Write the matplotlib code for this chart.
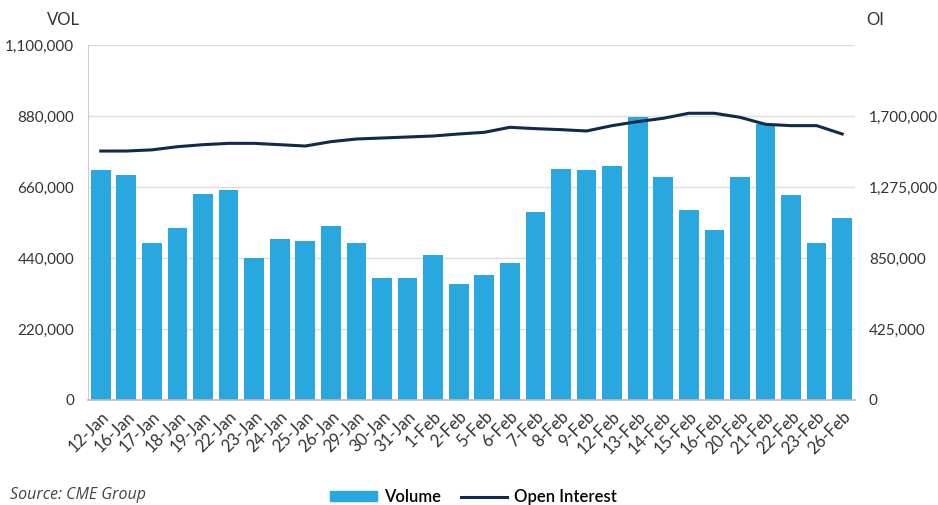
import matplotlib.pyplot as plt
import numpy as np
from matplotlib.ticker import FuncFormatter
from matplotlib.patches import Patch
from matplotlib.lines import Line2D

plt.rcParams['font.family'] = ['Lato', 'DejaVu Sans']

# data
dates = ["12-Jan", "16-Jan", "17-Jan", "18-Jan", "19-Jan", "22-Jan", "23-Jan", "24-Jan",
         "25-Jan", "26-Jan", "29-Jan", "30-Jan", "31-Jan", "1-Feb", "2-Feb", "5-Feb",
         "6-Feb", "7-Feb", "8-Feb", "9-Feb", "12-Feb", "13-Feb", "14-Feb", "15-Feb",
         "16-Feb", "20-Feb", "21-Feb", "22-Feb", "23-Feb", "26-Feb"]

volume = [713000, 697000, 486000, 532000, 639000, 650000, 439000, 500000,
          493000, 539000, 486000, 377000, 377000, 450000, 358000, 387000,
          423000, 581000, 716000, 712000, 725000, 878000, 692000, 589000,
          527000, 692000, 855000, 635000, 486000, 565000]

open_interest = [1490000, 1490000, 1497000, 1516000, 1528000, 1536000, 1536000, 1528000,
                 1520000, 1546000, 1562000, 1568000, 1574000, 1580000, 1592000, 1602000,
                 1632000, 1624000, 1618000, 1610000, 1642000, 1666000, 1686000, 1716000,
                 1716000, 1692000, 1650000, 1642000, 1642000, 1592000]

vol_ticks = [0, 220000, 440000, 660000, 880000, 1100000]
oi_ticks = [0, 425000, 850000, 1275000, 1700000]

bar_color = "#29a8e0"
line_color = "#0f2a4a"
text_color = "#333333"

fig = plt.figure(figsize=(9.38, 5.05), dpi=100)
ax = fig.add_axes([0.0938, 0.208, 0.8177, 0.703])
ax2 = ax.twinx()

x = np.arange(len(dates))
ax.bar(x, volume, width=0.77, color=bar_color, zorder=2)
ax2.plot(x, open_interest, color=line_color, linewidth=2.2, zorder=3)

ax.set_xlim(-0.5, len(dates) - 0.5)
ax.set_ylim(0, 1100000)
ax2.set_ylim(0, 2125000)
ax.set_yticks(vol_ticks)
ax2.set_yticks(oi_ticks)

fmt = FuncFormatter(lambda v, p: f"{int(v):,}")
ax.yaxis.set_major_formatter(fmt)
ax2.yaxis.set_major_formatter(fmt)

ax.grid(axis='y', color='#dddddd', linewidth=1, zorder=0)
ax.set_axisbelow(True)

for a in (ax, ax2):
    a.spines['top'].set_visible(False)
    a.spines['right'].set_visible(False)
ax.spines['left'].set_color('#cccccc')
ax.spines['bottom'].set_color('#bbbbbb')
ax.spines['bottom'].set_linewidth(1.2)
ax2.spines['left'].set_visible(False)
ax2.spines['bottom'].set_visible(False)

ax.set_xticks(x)
ax.set_xticklabels(dates, rotation=45, ha='right', rotation_mode='anchor',
                   fontsize=12, color=text_color)
ax.tick_params(axis='x', length=0, pad=6)
ax.tick_params(axis='y', length=0, pad=10, labelsize=11, labelcolor=text_color)
ax2.tick_params(axis='y', length=0, pad=10, labelsize=11, labelcolor=text_color)

fig.text(0.085, 0.96, "VOL", ha='right', va='center', fontsize=12, color=text_color)
fig.text(0.923, 0.96, "OI", ha='left', va='center', fontsize=12, color=text_color)

fig.text(0.011, 0.004, "Source: CME Group", ha='left', va='bottom', fontsize=11.5,
         style='italic', color='#444444', family=['Open Sans', 'DejaVu Sans'])

handles = [Patch(color=bar_color, label="Volume"),
           Line2D([0], [0], color=line_color, linewidth=2.2, label="Open Interest")]
fig.legend(handles=handles, loc='lower center', bbox_to_anchor=(0.505, -0.03), ncol=2,
           frameon=False, handlelength=2.8, handleheight=0.55,
           columnspacing=1.2, handletextpad=0.4,
           prop={'weight': 'semibold', 'size': 12})

fig.savefig("out.png", dpi=100)
